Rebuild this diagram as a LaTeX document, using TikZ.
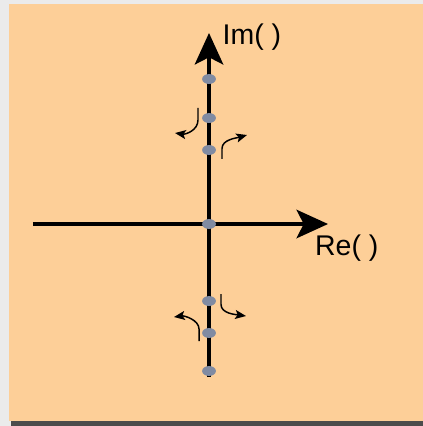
\documentclass[tikz,border=0pt]{standalone}
\usepackage{fontspec}
\setsansfont{Liberation Sans}
\usetikzlibrary{arrows.meta,positioning,shapes.geometric}
\definecolor{panel}{RGB}{253,207,152}
\definecolor{pole}{RGB}{128,139,162}

\begin{document}
\begin{tikzpicture}[>=latex,font=\sffamily,
    axis/.style={line width=3.2pt,-{Stealth[length=1.05cm,width=0.95cm,inset=0.24cm]}},
    move/.style={line width=1.4pt,-{Stealth[length=0.36cm,width=0.3cm,inset=0.08cm]}},
    polept/.style={ellipse,fill=pole,minimum width=0.46cm,minimum height=0.33cm,inner sep=0pt},
    axlabel/.style={inner sep=0pt,font=\sffamily\fontsize{27}{32}\selectfont}]
    % frame and shadow
    \useasboundingbox (-6.967,-6.733) rectangle (7.133,7.467);
    \fill [black!8] (-6.967,-6.733) rectangle (7.133,7.467);
    \fill [black!70] (-6.6,-6.733) rectangle (7.133,-6.5);
    \fill [panel] (-6.667,-6.557) rectangle (7.133,7.333);
    % axes
    \coordinate (west) at (-5.867,0);
    \coordinate (east) at (3.967,0);
    \coordinate (south) at (0,-5.1);
    \coordinate (north) at (0,6.367);
    \draw [axis] (west) -- (east);
    \draw [axis] (south) -- (north);
    \node [axlabel,anchor=base west] (im) at (0.45,5.967) {Im( )};
    \node [axlabel,anchor=base west] (re) at (3.53,-1.033) {Re( )};
    % poles on the imaginary axis
    \foreach \y/\name in {4.833/p1,3.533/p2,2.467/p3,0/p4,-2.567/p5,-3.633/p6,-4.9/p7}
        \node [polept] (\name) at (0,\y) {};
    % root movement
    \coordinate (a1) at (-0.367,3.867);
    \coordinate (a2) at (-1.133,3.033);
    \coordinate (b1) at (0.433,2.167);
    \coordinate (b2) at (1.267,2.967);
    \coordinate (c1) at (0.4,-2.333);
    \coordinate (c2) at (1.233,-3.067);
    \coordinate (d1) at (-0.333,-3.9);
    \coordinate (d2) at (-1.167,-3.1);
    \draw [move] (a1) -- ++(0,-0.4) .. controls +(0,-0.35) and +(0.35,-0.05) .. (a2);
    \draw [move] (b1) -- ++(0,0.35) .. controls +(0,0.3) and +(-0.35,-0.1) .. (b2);
    \draw [move] (c1) -- ++(0,-0.35) .. controls +(0,-0.3) and +(-0.35,0.05) .. (c2);
    \draw [move] (d1) -- ++(0,0.4) .. controls +(0,0.3) and +(0.35,0.05) .. (d2);
\end{tikzpicture}
\end{document}
